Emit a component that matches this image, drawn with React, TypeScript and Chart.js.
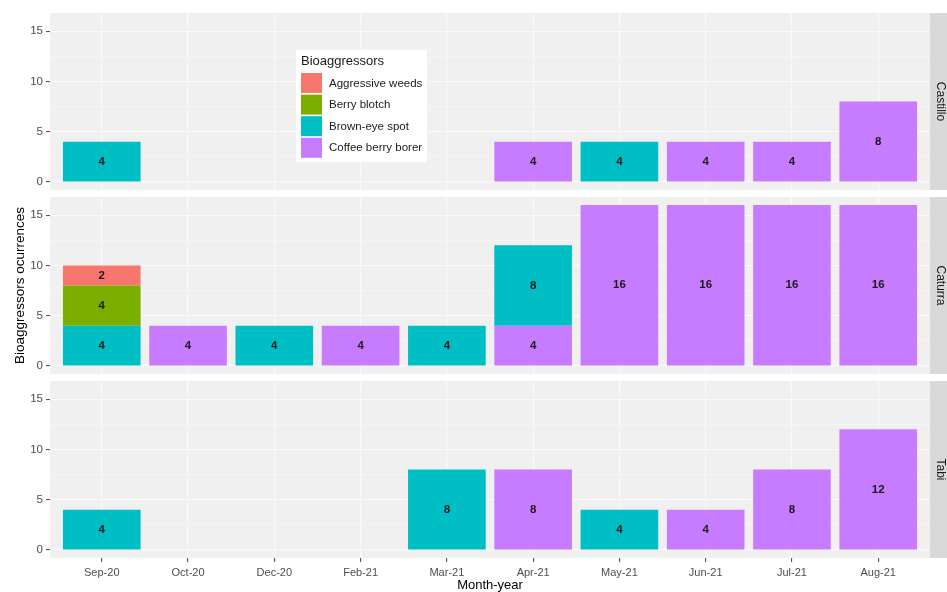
import React, { useEffect, useRef } from 'react';
import { Chart, registerables } from 'chart.js';

Chart.register(...registerables);

const months = ['Sep-20', 'Oct-20', 'Dec-20', 'Feb-21', 'Mar-21', 'Apr-21', 'May-21', 'Jun-21', 'Jul-21', 'Aug-21'];
const bioaggressors = ['Aggressive weeds', 'Berry blotch', 'Brown-eye spot', 'Coffee berry borer'];
const colors = ['#F8766D', '#7CAE00', '#00BFC4', '#C77CFF'];
const varieties = ['Castillo', 'Caturra', 'Tabi'];
const yTicks = [0, 5, 10, 15];
const yMinorTicks = [2.5, 7.5, 12.5];
const yMin = -0.8;
const yMax = 16.8;
const xMin = -0.6;
const xMax = 9.6;

const castilloWeeds = [null, null, null, null, null, null, null, null, null, null];
const castilloBlotch = [null, null, null, null, null, null, null, null, null, null];
const castilloBrownEye = [4, null, null, null, null, null, 4, null, null, null];
const castilloCBB = [null, null, null, null, null, 4, null, 4, 4, 8];

const caturraWeeds = [2, null, null, null, null, null, null, null, null, null];
const caturraBlotch = [4, null, null, null, null, null, null, null, null, null];
const caturraBrownEye = [4, null, 4, null, 4, 8, null, null, null, null];
const caturraCBB = [null, 4, null, 4, null, 4, 16, 16, 16, 16];

const tabiWeeds = [null, null, null, null, null, null, null, null, null, null];
const tabiBlotch = [null, null, null, null, null, null, null, null, null, null];
const tabiBrownEye = [4, null, null, null, 8, null, 4, null, null, null];
const tabiCBB = [null, null, null, null, null, 8, null, 4, 8, 12];

const FONT = '"Liberation Sans", Arial, Helvetica, sans-serif';

type Spec = {
  name: string;
  series: (number | null)[][];
  top: number;
  height: number;
  padTop: number;
  padBottom: number;
  showX: boolean;
  showYTitle: boolean;
  legend: boolean;
};

const specs: Spec[] = [
  { name: varieties[0], series: [castilloWeeds, castilloBlotch, castilloBrownEye, castilloCBB], top: 0, height: 193, padTop: 13, padBottom: 3, showX: false, showYTitle: false, legend: true },
  { name: varieties[1], series: [caturraWeeds, caturraBlotch, caturraBrownEye, caturraCBB], top: 193, height: 184, padTop: 4, padBottom: 3, showX: false, showYTitle: true, legend: false },
  { name: varieties[2], series: [tabiWeeds, tabiBlotch, tabiBrownEye, tabiCBB], top: 377, height: 215, padTop: 4, padBottom: 0, showX: true, showYTitle: false, legend: false },
];

const panelBg = {
  id: 'panelBg',
  beforeDraw(chart: any) {
    const { ctx, chartArea } = chart;
    ctx.save();
    ctx.fillStyle = '#F0F0F0';
    ctx.fillRect(chartArea.left, chartArea.top, chartArea.right - chartArea.left, chartArea.bottom - chartArea.top);
    ctx.restore();
  },
};

const barLabels = {
  id: 'barLabels',
  afterDatasetsDraw(chart: any) {
    const { ctx } = chart;
    ctx.save();
    ctx.font = `bold 11.5px ${FONT}`;
    ctx.fillStyle = '#1A1A1A';
    ctx.textAlign = 'center';
    ctx.textBaseline = 'middle';
    chart.data.datasets.forEach((ds: any, di: number) => {
      const meta = chart.getDatasetMeta(di);
      meta.data.forEach((el: any, i: number) => {
        const v = ds.data[i].y;
        if (v == null) return;
        const { x, y, base } = el.getProps(['x', 'y', 'base'], true);
        ctx.fillText(String(v), x, (y + base) / 2);
      });
    });
    ctx.restore();
  },
};

function makeStrip(name: string) {
  return {
    id: 'strip',
    afterDraw(chart: any) {
      const { ctx, chartArea, width } = chart;
      ctx.save();
      ctx.fillStyle = '#D9D9D9';
      ctx.fillRect(chartArea.right, chartArea.top, width - chartArea.right, chartArea.bottom - chartArea.top);
      ctx.translate(chartArea.right + 10, (chartArea.top + chartArea.bottom) / 2);
      ctx.rotate(Math.PI / 2);
      ctx.fillStyle = '#1A1A1A';
      ctx.font = `12px ${FONT}`;
      ctx.textAlign = 'center';
      ctx.textBaseline = 'middle';
      ctx.fillText(name, 0, 0);
      ctx.restore();
    },
  };
}

const legendPlugin = {
  id: 'insideLegend',
  afterDraw(chart: any) {
    const { ctx } = chart;
    const left = 296;
    const top = 50;
    ctx.save();
    ctx.fillStyle = '#FFFFFF';
    ctx.fillRect(left, top, 131, 112);
    ctx.fillStyle = '#1A1A1A';
    ctx.font = `13px ${FONT}`;
    ctx.textAlign = 'left';
    ctx.textBaseline = 'middle';
    ctx.fillText('Bioaggressors', left + 5, top + 11);
    bioaggressors.forEach((b, i) => {
      const ky = top + 23 + i * 21.6;
      ctx.fillStyle = colors[i];
      ctx.fillRect(left + 5, ky, 21, 20);
      ctx.fillStyle = '#1A1A1A';
      ctx.font = `11.5px ${FONT}`;
      ctx.fillText(b, left + 33, ky + 10.5);
    });
    ctx.restore();
  },
};

function Panel({ spec }: { spec: Spec }) {
  const ref = useRef<HTMLCanvasElement | null>(null);
  useEffect(() => {
    if (!ref.current) return;
    const datasets = [3, 2, 1, 0].map((j) => ({
      label: bioaggressors[j],
      data: months.map((_, i) => ({ x: i, y: spec.series[j][i] })),
      backgroundColor: colors[j],
      borderWidth: 0,
      stack: 's',
      barPercentage: 0.9,
      categoryPercentage: 1,
    }));
    const plugins: any[] = [panelBg, barLabels, makeStrip(spec.name)];
    if (spec.legend) plugins.push(legendPlugin);
    const isMajor = (v: number) => yTicks.includes(v);
    const chart = new Chart(ref.current, {
      type: 'bar',
      data: { datasets: datasets as any },
      plugins,
      options: {
        responsive: true,
        maintainAspectRatio: false,
        animation: false,
        layout: { padding: { left: 0, right: 17, top: spec.padTop, bottom: spec.padBottom } },
        plugins: { legend: { display: false }, tooltip: { enabled: false } },
        scales: {
          x: {
            type: 'linear',
            stacked: true,
            min: xMin,
            max: xMax,
            offset: false,
            afterBuildTicks: (s: any) => {
              s.ticks = months.map((_, i) => ({ value: i }));
            },
            afterFit: (s: any) => {
              s.height = spec.showX ? 34 : 0;
              s.paddingLeft = 0;
              s.paddingRight = 0;
            },
            grid: {
              offset: false,
              color: '#FAFAFA',
              lineWidth: 1.1,
              drawTicks: spec.showX,
              tickLength: 4,
              tickColor: '#555555',
            },
            border: { display: false },
            ticks: {
              display: spec.showX,
              autoSkip: false,
              maxRotation: 0,
              minRotation: 0,
              padding: 4,
              color: '#4D4D4D',
              font: { family: FONT, size: 11 },
              callback: (v: any) => months[v] ?? '',
            },
            title: {
              display: spec.showX,
              text: 'Month-year',
              color: '#000000',
              font: { family: FONT, size: 13, lineHeight: 1 },
              padding: { top: 0, bottom: 0 },
            },
          } as any,
          y: {
            stacked: true,
            min: yMin,
            max: yMax,
            afterBuildTicks: (s: any) => {
              s.ticks = [...yTicks, ...yMinorTicks].sort((a, b) => a - b).map((v) => ({ value: v }));
            },
            afterFit: (s: any) => {
              s.width = 50;
              s.paddingTop = 0;
              s.paddingBottom = 0;
            },
            grid: {
              color: '#FAFAFA',
              lineWidth: (c: any) => (c.tick && isMajor(c.tick.value) ? 1.1 : 0.55),
              tickLength: 4,
              tickColor: (c: any) => (c.tick && isMajor(c.tick.value) ? '#555555' : 'rgba(0,0,0,0)'),
            },
            border: { display: false },
            ticks: {
              padding: 3,
              color: '#4D4D4D',
              font: { family: FONT, size: 11.5 },
              callback: (v: any) => (isMajor(v) ? String(v) : ''),
            },
            title: {
              display: spec.showYTitle,
              text: 'Bioaggressors ocurrences',
              color: '#000000',
              font: { family: FONT, size: 13.5, lineHeight: 1 },
              padding: { top: 13.5, bottom: 0 },
            },
          } as any,
        },
      },
    });
    return () => chart.destroy();
  }, [spec]);
  return (
    <div style={{ position: 'absolute', left: 0, top: spec.top, width: 947, height: spec.height }}>
      <canvas ref={ref} />
    </div>
  );
}

export default function App() {
  return (
    <div style={{ position: 'absolute', left: 0, top: 0, width: 947, height: 592, background: '#FFFFFF', overflow: 'hidden' }}>
      {specs.map((s) => (
        <Panel key={s.name} spec={s} />
      ))}
    </div>
  );
}
